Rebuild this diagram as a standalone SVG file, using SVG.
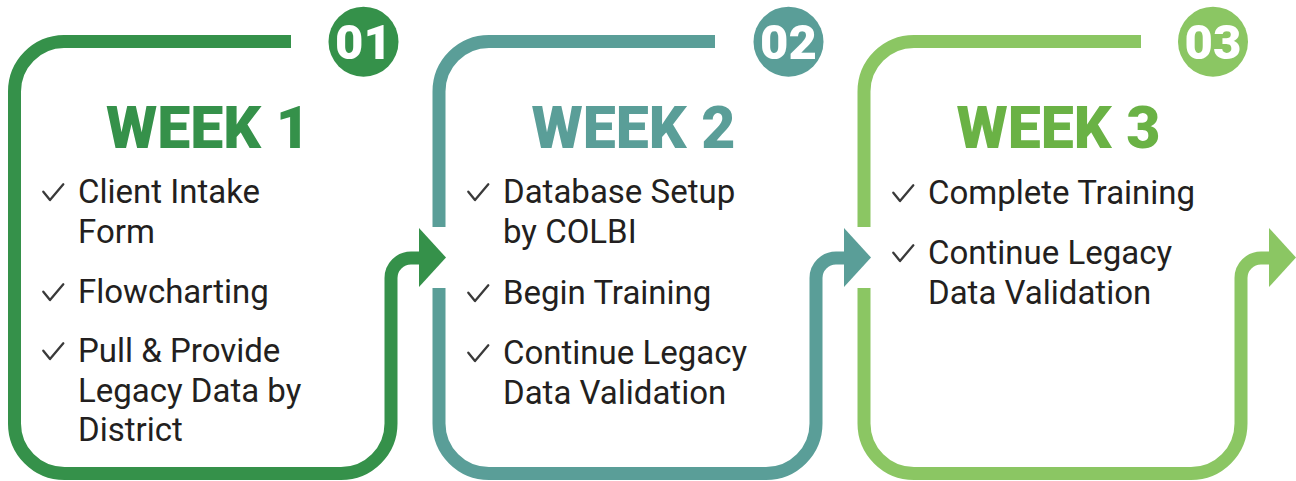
<svg xmlns="http://www.w3.org/2000/svg" width="1296" height="481" viewBox="0 0 1296 481">
<defs>
<style>
.ln{fill:none;stroke-width:13;stroke-linecap:butt;stroke-linejoin:round}
.g1{stroke:#35914A}.g2{stroke:#5A9E98}.g3{stroke:#8BC663}
.f1{fill:#35914A}.f2{fill:#5A9E98}.f3{fill:#8BC663}
.num{font-family:Roboto,"Liberation Sans",sans-serif;font-weight:900;font-size:49px;fill:#fff;text-anchor:middle}
.ttl{font-family:Roboto,"Liberation Sans",sans-serif;font-weight:900;font-size:59px}
.txt{font-family:Roboto,"Liberation Sans",sans-serif;font-size:33px;fill:#231F20}
.ck{fill:none;stroke:#3A3A3A;stroke-width:2.3;stroke-linecap:round;stroke-linejoin:round}
</style>
<path id="chk" d="M0 0 L6.7 8.3 L20 -7.4"/>
</defs>
<rect width="1296" height="481" fill="#fff"/>
<g id="connectors">
<path class="ln g1" d="M291 41.5 H64 A50 50 0 0 0 14.5 91.5 V423 A50 50 0 0 0 64.5 473.5 H341 A50 50 0 0 0 391 423.5 V278 A20 20 0 0 1 411 258 H421"/>
<polygon class="f1" points="419,228 446,257.5 419,287"/>
<path class="ln g2" d="M439 227 V91.5 A50 50 0 0 1 489 41.5 H715"/>
<path class="ln g2" d="M439 288 V423.5 A50 50 0 0 0 489 473.5 H766 A50 50 0 0 0 816 423.5 V278 A20 20 0 0 1 836 258 H846"/>
<polygon class="f2" points="844,228 871,257.5 844,287"/>
<path class="ln g3" d="M864 227 V91.5 A50 50 0 0 1 914 41.5 H1141"/>
<path class="ln g3" d="M864 288 V423.5 A50 50 0 0 0 914 473.5 H1191 A50 50 0 0 0 1241 423.5 V278 A20 20 0 0 1 1261 258 H1271"/>
<polygon class="f3" points="1269,228 1296,257.5 1269,287"/>
</g>
<g id="week1">
<circle class="f1" cx="363.5" cy="41.7" r="35"/>
<text class="num" x="363.5" y="58.5">01</text>
<text class="ttl f1" x="106" y="148">WEEK 1</text>
<use href="#chk" class="ck" x="43.3" y="191.7"/>
<text class="txt" x="78" y="203">Client Intake</text>
<text class="txt" x="78" y="242.5">Form</text>
<use href="#chk" class="ck" x="43.3" y="291.7"/>
<text class="txt" x="78" y="303">Flowcharting</text>
<use href="#chk" class="ck" x="43.3" y="350.7"/>
<text class="txt" x="78" y="362">Pull &amp; Provide</text>
<text class="txt" x="78" y="401.5">Legacy Data by</text>
<text class="txt" x="78" y="441">District</text>
</g>
<g id="week2">
<circle class="f2" cx="788.5" cy="41.7" r="35"/>
<text class="num" x="788.5" y="58.5">02</text>
<text class="ttl f2" x="531.5" y="148">WEEK 2</text>
<use href="#chk" class="ck" x="468.3" y="191.7"/>
<text class="txt" x="503" y="203">Database Setup</text>
<text class="txt" x="503" y="242.5">by COLBI</text>
<use href="#chk" class="ck" x="468.3" y="292.7"/>
<text class="txt" x="503" y="304">Begin Training</text>
<use href="#chk" class="ck" x="468.3" y="352.7"/>
<text class="txt" x="503" y="364">Continue Legacy</text>
<text class="txt" x="503" y="404">Data Validation</text>
</g>
<g id="week3">
<circle class="f3" cx="1213" cy="41.7" r="35"/>
<text class="num" x="1213" y="58.5">03</text>
<text class="ttl" fill="#6AB245" x="956.5" y="148">WEEK 3</text>
<use href="#chk" class="ck" x="893.3" y="192.7"/>
<text class="txt" x="928" y="204">Complete Training</text>
<use href="#chk" class="ck" x="893.3" y="252.7"/>
<text class="txt" x="928" y="264">Continue Legacy</text>
<text class="txt" x="928" y="304">Data Validation</text>
</g>
</svg>
